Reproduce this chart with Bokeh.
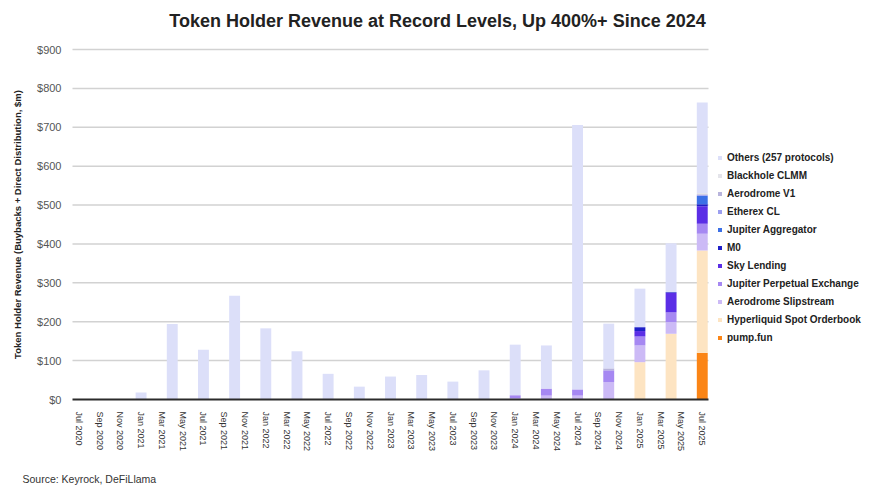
from bokeh.plotting import figure
from bokeh.models import ColumnDataSource, FixedTicker, Legend, LegendItem, Label, NumeralTickFormatter, Range1d
from bokeh.embed import file_html
from bokeh.resources import INLINE

# ---------------- data ----------------
months = []
_mn = ["Jan", "Feb", "Mar", "Apr", "May", "Jun", "Jul", "Aug", "Sep", "Oct", "Nov", "Dec"]
for yr in range(2020, 2026):
    for m in _mn:
        months.append(f"{m} {yr}")
months = months[months.index("Jul 2020"):months.index("Jul 2025") + 1]

quarters = ["Jul 2020", "Oct 2020", "Jan 2021", "Apr 2021", "Jul 2021", "Oct 2021", "Jan 2022",
            "Apr 2022", "Jul 2022", "Oct 2022", "Jan 2023", "Apr 2023", "Jul 2023", "Oct 2023",
            "Jan 2024", "Apr 2024", "Jul 2024", "Oct 2024", "Jan 2025", "Apr 2025", "Jul 2025"]

pump_fun        = [0, 0, 0, 0, 0, 0, 0, 0, 0, 0, 0, 0, 0, 0, 0, 0, 0, 0, 0, 0, 120]
hyperliquid     = [0, 0, 0, 0, 0, 0, 0, 0, 0, 0, 0, 0, 0, 0, 0, 0, 0, 0, 96, 169, 263]
aero_slip       = [0, 0, 0, 0, 0, 0, 0, 0, 0, 0, 0, 0, 0, 0, 3, 10, 10, 45, 43, 30, 43]
jup_perp        = [0, 0, 0, 0, 0, 0, 0, 0, 0, 0, 0, 0, 0, 0, 8, 18, 16, 30, 23, 25, 26]
sky_lending     = [0, 0, 0, 0, 0, 0, 0, 0, 0, 0, 0, 0, 0, 0, 0, 0, 0, 0, 14, 50, 45]
m0              = [0, 0, 0, 0, 0, 0, 0, 0, 0, 0, 0, 0, 0, 0, 0, 0, 0, 0, 10, 2, 5]
jup_agg         = [0, 0, 0, 0, 0, 0, 0, 0, 0, 0, 0, 0, 0, 0, 0, 0, 0, 0, 0, 0, 22]
etherex         = [0, 0, 0, 0, 0, 0, 0, 0, 0, 0, 0, 0, 0, 0, 0, 0, 0, 0, 0, 0, 2]
aero_v1         = [0, 0, 0, 0, 0, 0, 0, 0, 0, 0, 0, 0, 0, 0, 0, 0, 0, 5, 0, 0, 2]
blackhole       = [0, 0, 0, 0, 0, 0, 0, 0, 0, 0, 0, 0, 0, 0, 0, 0, 0, 0, 0, 0, 3]
others          = [0, 0, 18, 194, 128, 267, 183, 124, 66, 33, 59, 63, 46, 75, 130, 111, 680, 115, 99, 126, 233]

series_names = ["pump.fun", "Hyperliquid Spot Orderbook", "Aerodrome Slipstream",
                "Jupiter Perpetual Exchange", "Sky Lending", "M0", "Jupiter Aggregator",
                "Etherex CL", "Aerodrome V1", "Blackhole CLMM", "Others (257 protocols)"]
series_values = [pump_fun, hyperliquid, aero_slip, jup_perp, sky_lending, m0, jup_agg,
                 etherex, aero_v1, blackhole, others]
series_colors = ["#fb8516", "#fde4c2", "#ccbaf6", "#a688f2", "#5b2ee6", "#1f1fc8", "#3c70e6",
                 "#9c9ff0", "#b8b4dc", "#e4e4ea", "#dcdff9"]

y_ticks = [0, 100, 200, 300, 400, 500, 600, 700, 800, 900]

# ---------------- build ----------------
keys = [f"s{i}" for i in range(len(series_names))]
data = {"x": [months.index(q) for q in quarters]}
for k, v in zip(keys, series_values):
    data[k] = v
src = ColumnDataSource(data)

FONT = "Liberation Sans"

# canvas / chart-area geometry (pixels)
W, H = 869, 492
CL, CR, CT, CB = 72, 708, 49, 399          # chart area left, right, top, bottom
x0, x1 = -0.6, len(months) - 0.4           # data extent on x
y0, y1 = 0, 900
kx = (x1 - x0) / (CR - CL)
ky = (y1 - y0) / (CB - CT)

p = figure(width=W, height=H, output_backend="svg", toolbar_location=None, title=None,
           x_range=Range1d(x0 - CL * kx, x1 + (W - CR) * kx),
           y_range=Range1d(y0 - (H - CB) * ky, y1 + CT * ky),
           min_border_left=0, min_border_right=0, min_border_top=0, min_border_bottom=0,
           background_fill_color="white", border_fill_color="white")
p.outline_line_color = None

# horizontal grid limited to the chart area
p.xgrid.grid_line_color = None
p.ygrid.grid_line_color = None
p.segment(x0=x0, x1=x1, y0=y_ticks[1:], y1=y_ticks[1:], line_color="#d2d2d2",
          line_width=1.5, level="underlay")

renderers = p.vbar_stack(keys, x="x", width=1.05, source=src, color=series_colors,
                         line_color=None)

# axes (fixed inside the canvas)
p.xaxis.fixed_location = 0
p.xaxis.bounds = (x0, x1)
p.xaxis.ticker = FixedTicker(ticks=list(range(0, len(months), 2)))
p.xaxis.major_label_overrides = {i: months[i] for i in range(0, len(months), 2)}
p.xaxis.major_label_orientation = "vertical"
p.xaxis.major_label_text_font = FONT
p.xaxis.major_label_text_font_size = "9px"
p.xaxis.major_label_text_color = "#333333"
p.xaxis.major_tick_line_color = None
p.xaxis.minor_tick_line_color = None
p.xaxis.axis_line_color = "#2b2b2b"
p.xaxis.axis_line_width = 2
p.xaxis.major_label_standoff = 6

p.yaxis.fixed_location = x0
p.yaxis.bounds = (y0, y1)
p.yaxis.ticker = FixedTicker(ticks=y_ticks)
p.yaxis.formatter = NumeralTickFormatter(format="$0")
p.yaxis.major_label_text_font = FONT
p.yaxis.major_label_text_font_size = "11px"
p.yaxis.major_label_text_color = "#555555"
p.yaxis.major_tick_line_color = None
p.yaxis.minor_tick_line_color = None
p.yaxis.axis_line_color = None
p.yaxis.major_label_standoff = 5
p.yaxis.axis_label = "Token Holder Revenue (Buybacks + Direct Distribution, $m)"
p.yaxis.axis_label_text_font = FONT
p.yaxis.axis_label_text_font_style = "bold"
p.yaxis.axis_label_text_font_size = "9.5px"
p.yaxis.axis_label_text_color = "#222222"
p.yaxis.axis_label_standoff = 11

# legend (top item = last series)
items = [LegendItem(label=n, renderers=[r]) for n, r in zip(series_names, renderers)][::-1]
legend = Legend(items=items, location=(717, H - 343))
legend.label_text_font = FONT
legend.label_text_font_style = "bold"
legend.label_text_font_size = "10px"
legend.label_text_color = "#222222"
legend.glyph_width = 5
legend.glyph_height = 5
legend.label_height = 12
legend.spacing = 6
legend.label_standoff = 5
legend.padding = 2
legend.background_fill_alpha = 0
legend.border_line_color = None
p.add_layout(legend)

title = Label(x=437, y=H - 20, x_units="screen", y_units="screen",
              text="Token Holder Revenue at Record Levels, Up 400%+ Since 2024",
              text_font=FONT, text_font_style="bold", text_font_size="18px",
              text_color="#222222", text_align="center", text_baseline="middle")
p.add_layout(title)

source = Label(x=22, y=H - 478, x_units="screen", y_units="screen",
               text="Source: Keyrock, DeFiLlama", text_font=FONT, text_font_size="10.5px",
               text_color="#333333", text_align="left", text_baseline="middle")
p.add_layout(source)

open("out.html", "w").write(file_html(p, INLINE))
